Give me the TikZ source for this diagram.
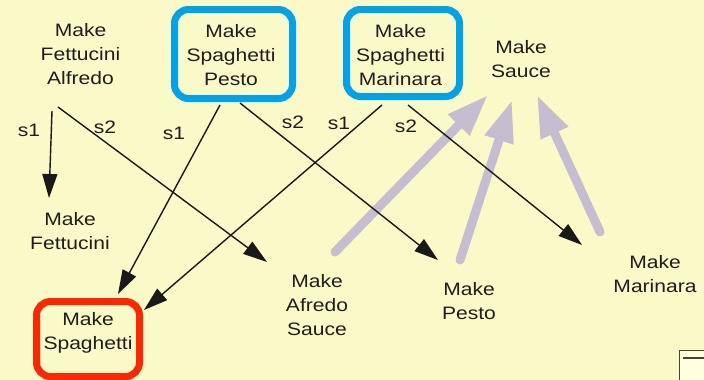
\documentclass[tikz,border=0pt]{standalone}
\usepackage{fontspec}
\setmainfont{Liberation Sans}[FakeStretch=1.17]
\usetikzlibrary{arrows.meta}
\definecolor{bg}{RGB}{250,249,200}
\definecolor{txt}{RGB}{30,30,30}
\definecolor{boxblue}{RGB}{0,162,232}
\definecolor{boxred}{RGB}{255,38,0}
\definecolor{arrgray}{RGB}{196,190,208}
\definecolor{cornerfill}{RGB}{255,255,222}
\definecolor{cornerline}{RGB}{70,70,60}
\begin{document}
\begin{tikzpicture}[x=1pt,y=-1pt,
  lbl/.style={font=\fontsize{18}{24}\selectfont, align=center, inner sep=0pt, text=txt},
  elbl/.style={font=\fontsize{18}{24}\selectfont, inner sep=0pt, text=txt},
  edge/.style={draw=black!90, line width=1.4pt, -{Triangle[length=24pt,width=15pt]}},
  sauce/.style={draw=arrgray, line width=9pt, line cap=round, -{Triangle[length=42pt,width=28pt]}},
  bluebox/.style={draw=boxblue, line width=7pt, rounded corners=14pt},
  redbox/.style={draw=boxred, line width=7pt, rounded corners=14pt}]
\fill[bg] (0,0) rectangle (704,380);
\useasboundingbox (0,0) rectangle (704,380);

% nodes
\node[lbl] (fa) at (80.5,54.5) {Make\\Fettucini\\Alfredo};
\node[lbl] (sp) at (231,55) {Make\\Spaghetti\\Pesto};
\node[lbl] (sm) at (400.5,55) {Make\\Spaghetti\\Marinara};
\node[lbl] (ms) at (521,59) {Make\\Sauce};
\node[lbl] (mf) at (70,231) {Make\\Fettucini};
\node[lbl] (spag) at (88,333) {Make\\Spaghetti};
\node[lbl] (as) at (317,305) {Make\\Afredo\\Sauce};
\node[lbl] (mp) at (469,301.5) {Make\\Pesto};
\node[lbl] (mm) at (655,274) {Make\\Marinara};

% frames
\draw[bluebox] ([shift={(-56.5,-45.5)}]sp.center) rectangle ([shift={(61.5,43.5)}]sp.center);
\draw[bluebox] ([shift={(-54,-45.5)}]sm.center) rectangle ([shift={(59,41.5)}]sm.center);
\draw[redbox] ([shift={(-51.5,-31.5)}]spag.center) rectangle ([shift={(51.5,43.5)}]spag.center);

% gray arrows to Make Sauce
\draw[sauce] ([shift={(18,-53)}]as.center) -- ([shift={(-33,36)}]ms.center);
\draw[sauce] ([shift={(-9,-41.5)}]mp.center) -- ([shift={(-9,41)}]ms.center);
\draw[sauce] ([shift={(-55,-42)}]mm.center) -- ([shift={(16,36)}]ms.center);

% black edges
\draw[edge] ([shift={(-28.5,56.5)}]fa.center) -- ([shift={(-21,-33)}]mf.center);
\draw[edge] ([shift={(-22.5,52.5)}]fa.center) -- ([shift={(-50,-43)}]as.center);
\draw[edge] ([shift={(-11,50)}]sp.center) -- ([shift={(30,-39)}]spag.center);
\draw[edge] ([shift={(9,48)}]sp.center) -- ([shift={(-31,-41.5)}]mp.center);
\draw[edge] ([shift={(-18.5,50)}]sm.center) -- ([shift={(56,-23)}]spag.center);
\draw[edge] ([shift={(7.5,50)}]sm.center) -- ([shift={(-73,-29)}]mm.center);

% edge labels
\node[elbl] (l1) at (29,130) {s1};
\node[elbl] (l2) at (105,127) {s2};
\node[elbl] (l3) at (174,133) {s1};
\node[elbl] (l4) at (293,122) {s2};
\node[elbl] (l5) at (339,123) {s1};
\node[elbl] (l6) at (406,126) {s2};

% corner box
\draw[draw=cornerline, fill=cornerfill, line width=1.5pt] (679.5,350.5) rectangle (712,390);
\draw[cornerline, line width=1.5pt] (683,358) -- (704,358);
\end{tikzpicture}
\end{document}
